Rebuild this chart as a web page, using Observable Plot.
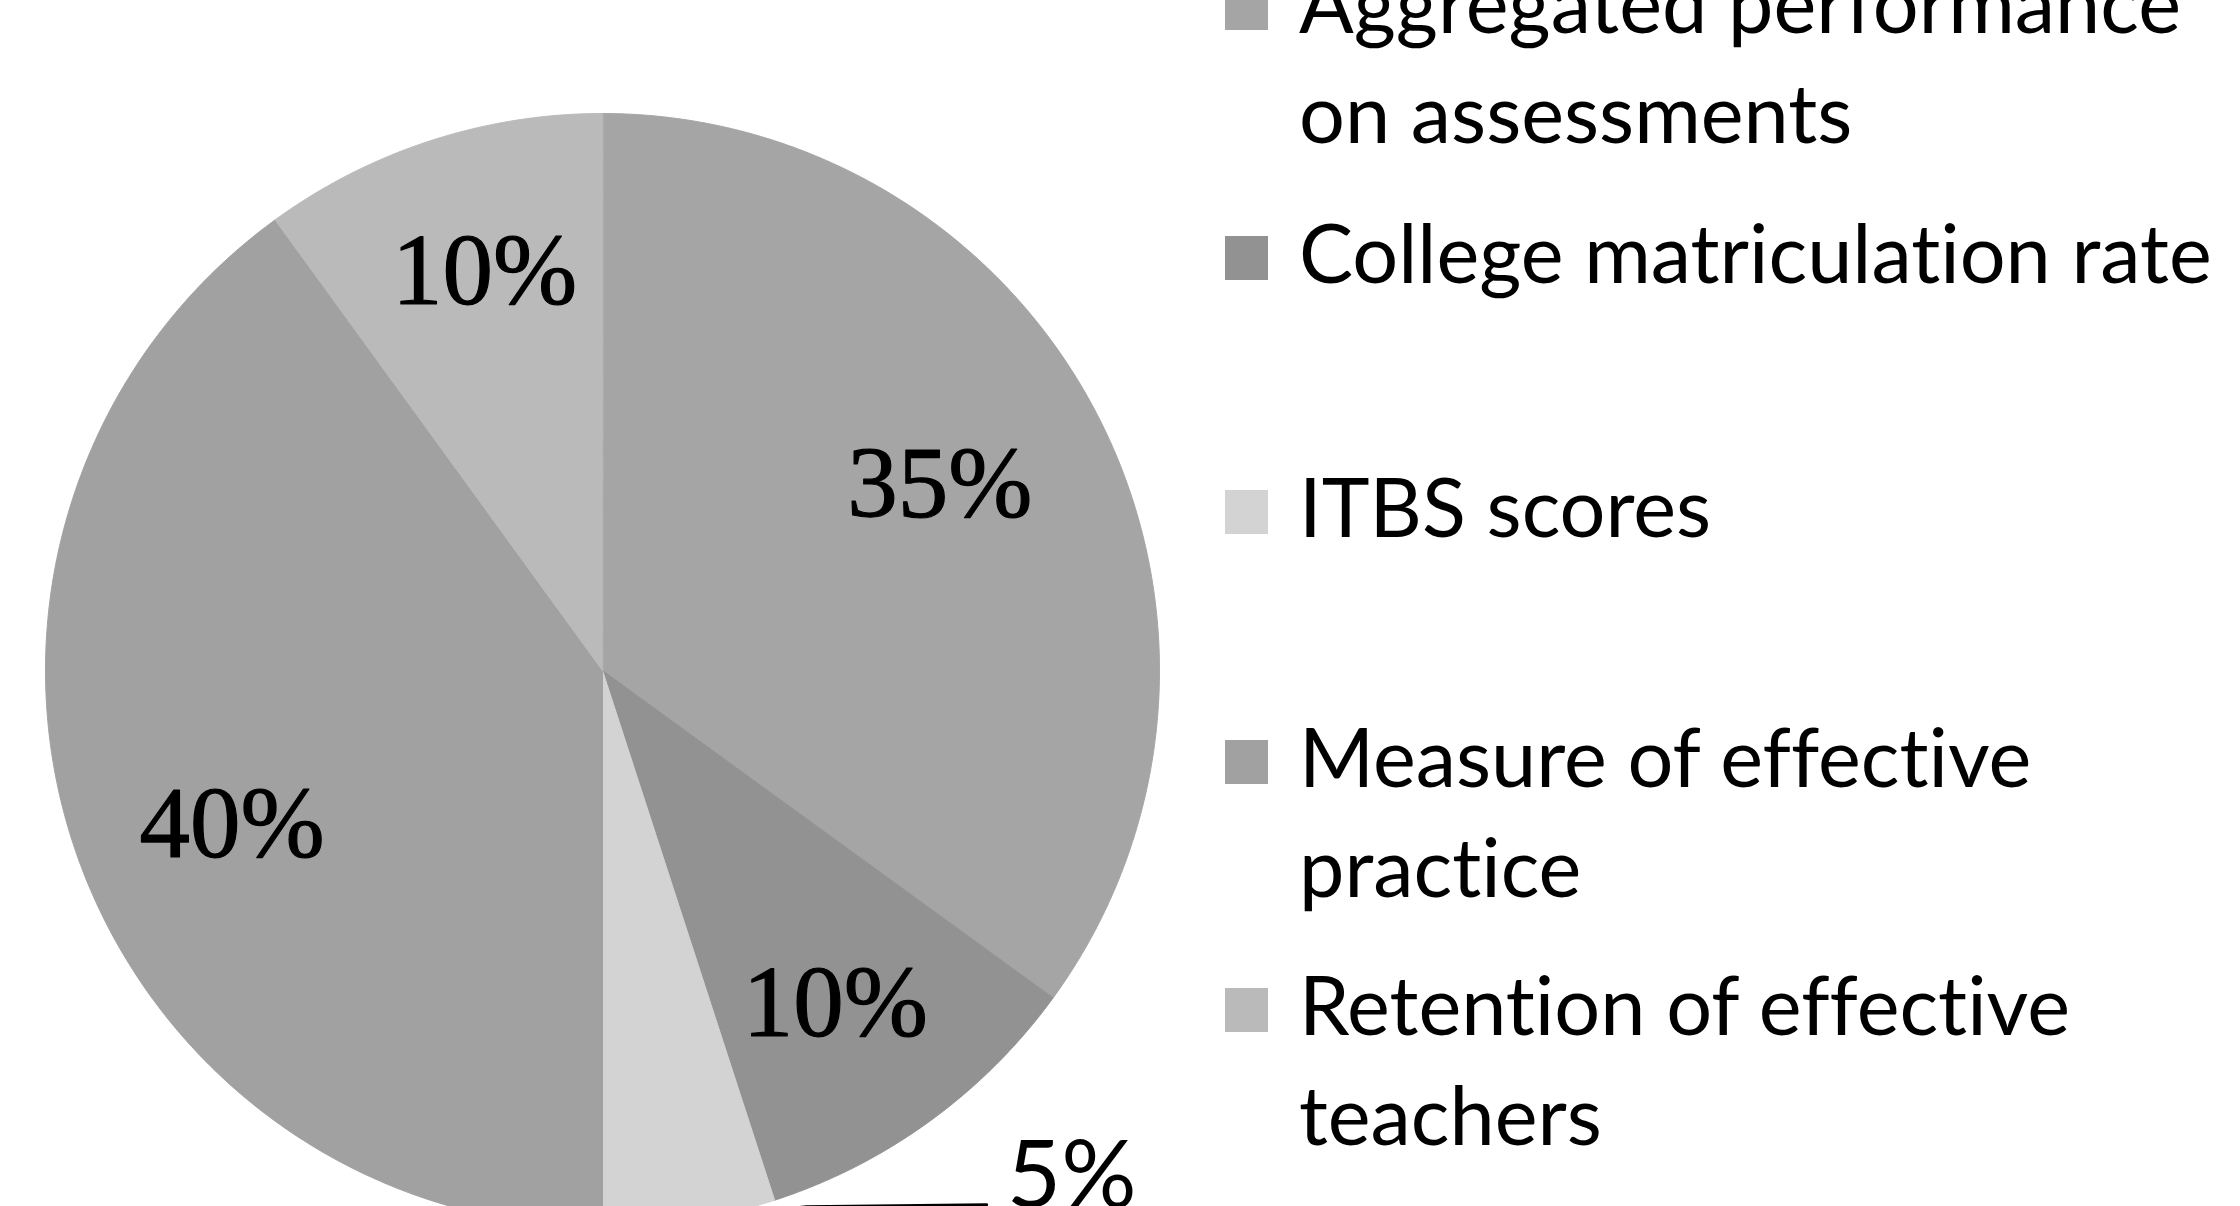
<!DOCTYPE html>
<html><head><meta charset="utf-8">
<script src="https://cdn.jsdelivr.net/npm/d3@7"></script>
<script src="https://cdn.jsdelivr.net/npm/@observablehq/plot@0.6"></script>
<style>
html,body{margin:0;padding:0;background:#fff;}
#wrap{position:relative;width:2240px;height:1206px;overflow:hidden;background:#fff;}
#pie{position:absolute;left:0;top:0;}
#legend{position:absolute;left:0;top:0;font-variant-ligatures:no-common-ligatures;}
</style></head>
<body>
<div id="wrap"><div id="pie"></div><svg id="legend" width="2240" height="1206"></svg></div>
<script>
// ---- data ----
const categories = [
  "Aggregated performance on assessments",
  "College matriculation rate",
  "ITBS scores",
  "Measure of effective practice",
  "Retention of effective teachers"
];
const shares = [35, 10, 5, 40, 10];
const valueLabels = ["35%", "10%", "5%", "40%", "10%"];
const legendLines = [
  ["Aggregated performance", "on assessments"],
  ["College matriculation rate"],
  ["ITBS scores"],
  ["Measure of effective", "practice"],
  ["Retention of effective", "teachers"]
];
const fills = ["#a5a5a5", "#929292", "#d3d3d3", "#a1a1a1", "#bababa"];

// ---- layout ----
const W = 1200, H = 1206, cx = 602, cy = 670, R = 557;
const labelRadius = 0.72;
// per-slice label nudges in pixels [dx, dy] (screen coords)
const labelNudge = [[-20, -4], [-3, 9], [0, 0], [11, 30], [6, -17]];
const legendBaselines = [33, 283, 537, 787, 1035];
const legendLineHeight = 110;

const data = categories.map((c, i) => ({cat: c, share: shares[i], label: valueLabels[i], i}));
const arcs = d3.pie().sort(null).value(d => d.share)(data);

// polygon vertices of each slice (unit circle, y up)
const rows = [];
arcs.forEach(a => {
  rows.push({cat: a.data.cat, x: 0, y: 0});
  const n = Math.max(2, Math.ceil((a.endAngle - a.startAngle) / (Math.PI / 720)));
  for (let k = 0; k <= n; k++) {
    const t = a.startAngle + (a.endAngle - a.startAngle) * k / n;
    rows.push({cat: a.data.cat, x: Math.sin(t), y: Math.cos(t)});
  }
});

const px = v => v / R;
const mids = arcs.map(a => {
  const m = (a.startAngle + a.endAngle) / 2;
  return {cat: a.data.cat, share: a.data.share, label: a.data.label, i: a.data.i, m};
});
const inside = mids.filter(d => d.share >= 8);
const outside = mids.filter(d => d.share < 8);

// outside label placed to the right of the slice edge (pixel offsets, screen coords)
const outDX = 317, outDY = -44;
const outLabels = outside.map(d => ({
  label: d.label,
  x: Math.sin(d.m) + px(outDX),
  y: Math.cos(d.m) - px(outDY)
}));
const leaders = [];
outside.forEach((d, i) => {
  const ex = Math.sin(d.m), ey = Math.cos(d.m);
  const lx = outLabels[i].x, ly = outLabels[i].y;
  leaders.push({g: i, x: ex, y: ey});
  leaders.push({g: i, x: lx - px(200), y: ly - px(30)});
  leaders.push({g: i, x: lx - px(20), y: ly - px(28)});
});

const chart = Plot.plot({
  width: W, height: H,
  marginTop: 0, marginRight: 0, marginBottom: 0, marginLeft: 0,
  x: {domain: [-cx / R, (W - cx) / R], axis: null},
  y: {domain: [-(H - cy) / R, cy / R], axis: null},
  color: {domain: categories, range: fills},
  style: {background: "white"},
  marks: [
    Plot.line(rows, {x: "x", y: "y", z: "cat", fill: "cat", stroke: "cat", strokeWidth: 1, curve: "linear-closed"}),
    Plot.text(inside, {
      x: d => labelRadius * Math.sin(d.m) + px(labelNudge[d.i][0]),
      y: d => labelRadius * Math.cos(d.m) - px(labelNudge[d.i][1]),
      text: "label",
      fontFamily: "Liberation Serif",
      fontSize: 101,
      fill: "black",
      stroke: "black",
      strokeWidth: 1.2
    }),
    Plot.line(leaders, {x: "x", y: "y", z: "g", stroke: "black", strokeWidth: 3}),
    Plot.text(outLabels, {
      x: "x", y: "y", text: "label",
      textAnchor: "start",
      fontFamily: "Lato",
      fontSize: 94,
      fill: "black"
    })
  ]
});
document.getElementById("pie").appendChild(chart);

// ---- legend ----
const lg = d3.select("#legend");
categories.forEach((c, i) => {
  const b = legendBaselines[i];
  lg.append("rect")
    .attr("x", 1225).attr("y", b - 47)
    .attr("width", 43).attr("height", 44)
    .attr("fill", fills[i]);
  legendLines[i].forEach((line, j) => {
    lg.append("text")
      .attr("x", 1299).attr("y", b + j * legendLineHeight)
      .attr("font-family", "Lato")
      .attr("font-size", 81)
      .attr("fill", "black")
      .text(line);
  });
});
</script>
</body></html>
